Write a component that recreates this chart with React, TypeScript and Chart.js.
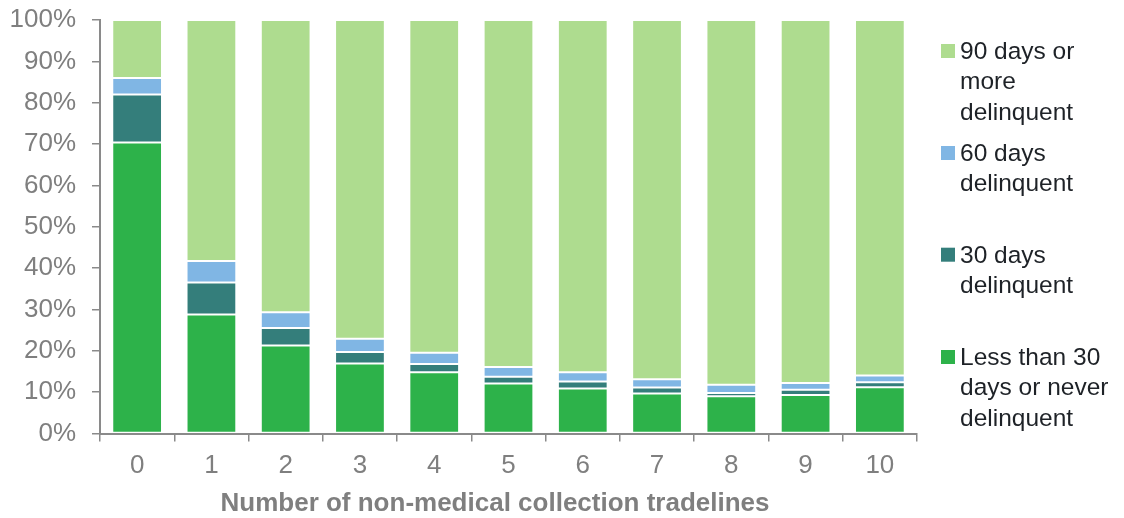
import React, { useEffect, useRef } from "react";
import { Chart, registerables } from "chart.js";

Chart.register(...registerables);

// Share of accounts by delinquency status, per number of non-medical collection tradelines
const categories = ["0", "1", "2", "3", "4", "5", "6", "7", "8", "9", "10"];
const lessThan30 = [70.4, 28.8, 21.3, 16.9, 14.8, 12.1, 10.9, 9.7, 9.0, 9.3, 11.2];
const days30 = [11.6, 7.7, 4.2, 2.8, 2.0, 1.6, 1.7, 1.4, 0.8, 1.3, 1.2];
const days60 = [4.0, 5.2, 3.8, 3.2, 2.7, 2.4, 2.2, 2.0, 2.0, 1.6, 1.6];
const days90Plus = [14.0, 58.3, 70.7, 77.1, 80.5, 83.9, 85.2, 86.9, 88.2, 87.8, 86.0];
const yTickValues = [0, 10, 20, 30, 40, 50, 60, 70, 80, 90, 100];

const xAxisTitle = "Number of non-medical collection tradelines";

// Legend entries, top to bottom, with their wrapped lines
const legendLines: string[][] = [
  ["90 days or", "more", "delinquent"],
  ["60 days", "delinquent"],
  ["30 days", "delinquent"],
  ["Less than 30", "days or never", "delinquent"],
];

const COLORS = {
  lessThan30: "#2db24a",
  days30: "#347e7b",
  days60: "#80b6e4",
  days90Plus: "#aedc8f",
};

const FONT = "'Liberation Sans', Arial, Helvetica, sans-serif";
const AXIS_GRAY = "#8a8a8a";
const TEXT_GRAY = "#7f7f7f";

// Draws the wrapped side legend and the x-axis title
const sideTextPlugin = {
  id: "sideText",
  afterDraw(chart: Chart) {
    const ctx = chart.ctx;
    const area = chart.chartArea;
    ctx.save();

    // x-axis title
    ctx.font = `bold 26px ${FONT}`;
    ctx.fillStyle = TEXT_GRAY;
    ctx.textAlign = "center";
    ctx.textBaseline = "middle";
    ctx.fillText(xAxisTitle, area.left + 395, 503.5);

    // legend: drawn in reverse dataset order (top of stack first)
    const ds = chart.data.datasets.slice().reverse();
    const baselines = [59, 161, 262.7, 365];
    const lineGap = 30.3;
    const keyX = area.right + 24;
    const textX = keyX + 19;
    ctx.font = `24.5px ${FONT}`;
    ctx.textAlign = "left";
    ctx.textBaseline = "alphabetic";
    ds.forEach((d, i) => {
      const base = baselines[i];
      ctx.fillStyle = d.backgroundColor as string;
      ctx.fillRect(keyX, base - 15, 14, 14);
      ctx.fillStyle = "#1e2227";
      legendLines[i].forEach((line, j) => {
        ctx.fillText(line, textX, base + j * lineGap);
      });
    });
    ctx.restore();
  },
};

export default function App() {
  const canvasRef = useRef<HTMLCanvasElement | null>(null);

  useEffect(() => {
    if (!canvasRef.current) return;
    const edge = "rgba(255,255,255,0.22)";
    const mk = (label: string, data: number[], color: string) => ({
      label,
      data,
      backgroundColor: color,
      borderColor: edge,
      borderWidth: 1,
      borderSkipped: false as const,
      categoryPercentage: 1,
      barPercentage: 0.67,
    });
    const chart = new Chart(canvasRef.current, {
      type: "bar",
      data: {
        labels: categories,
        datasets: [
          mk(legendLines[3].join(" "), lessThan30, COLORS.lessThan30),
          mk(legendLines[2].join(" "), days30, COLORS.days30),
          mk(legendLines[1].join(" "), days60, COLORS.days60),
          mk(legendLines[0].join(" "), days90Plus, COLORS.days90Plus),
        ],
      },
      options: {
        animation: false,
        responsive: false,
        layout: { padding: { top: 20, right: 207, left: 0, bottom: 0 } },
        plugins: {
          legend: { display: false },
          tooltip: { enabled: false },
        },
        scales: {
          x: {
            stacked: true,
            offset: true,
            grid: {
              display: true,
              drawOnChartArea: false,
              drawTicks: true,
              tickLength: 8,
              color: AXIS_GRAY,
              lineWidth: 1.5,
              offset: true,
            },
            border: { display: true, color: AXIS_GRAY, width: 2 },
            ticks: {
              color: TEXT_GRAY,
              font: { family: FONT, size: 26 },
              padding: 9,
              maxRotation: 0,
            },
            afterFit(scale: any) {
              scale.height = 84.5;
              scale.paddingLeft = 0;
              scale.paddingRight = 0;
            },
          },
          y: {
            stacked: true,
            min: 0,
            max: 100,
            afterBuildTicks(scale: any) {
              scale.ticks = yTickValues.map((v) => ({ value: v }));
            },
            grid: {
              display: true,
              drawOnChartArea: false,
              drawTicks: true,
              tickLength: 8,
              color: AXIS_GRAY,
              lineWidth: 1.5,
            },
            border: { display: true, color: AXIS_GRAY, width: 2 },
            ticks: {
              color: TEXT_GRAY,
              font: { family: FONT, size: 26 },
              padding: 16,
              callback: (v: any) => `${v}%`,
            },
            afterFit(scale: any) {
              scale.width = 100;
              scale.paddingTop = 0;
              scale.paddingBottom = 0;
            },
          },
        },
      },
      plugins: [sideTextPlugin],
    });
    return () => chart.destroy();
  }, []);

  return (
    <div style={{ position: "absolute", left: 0, top: 0, width: 1124, height: 518, background: "#fff" }}>
      <canvas ref={canvasRef} width={1124} height={518} style={{ display: "block" }} />
    </div>
  );
}
